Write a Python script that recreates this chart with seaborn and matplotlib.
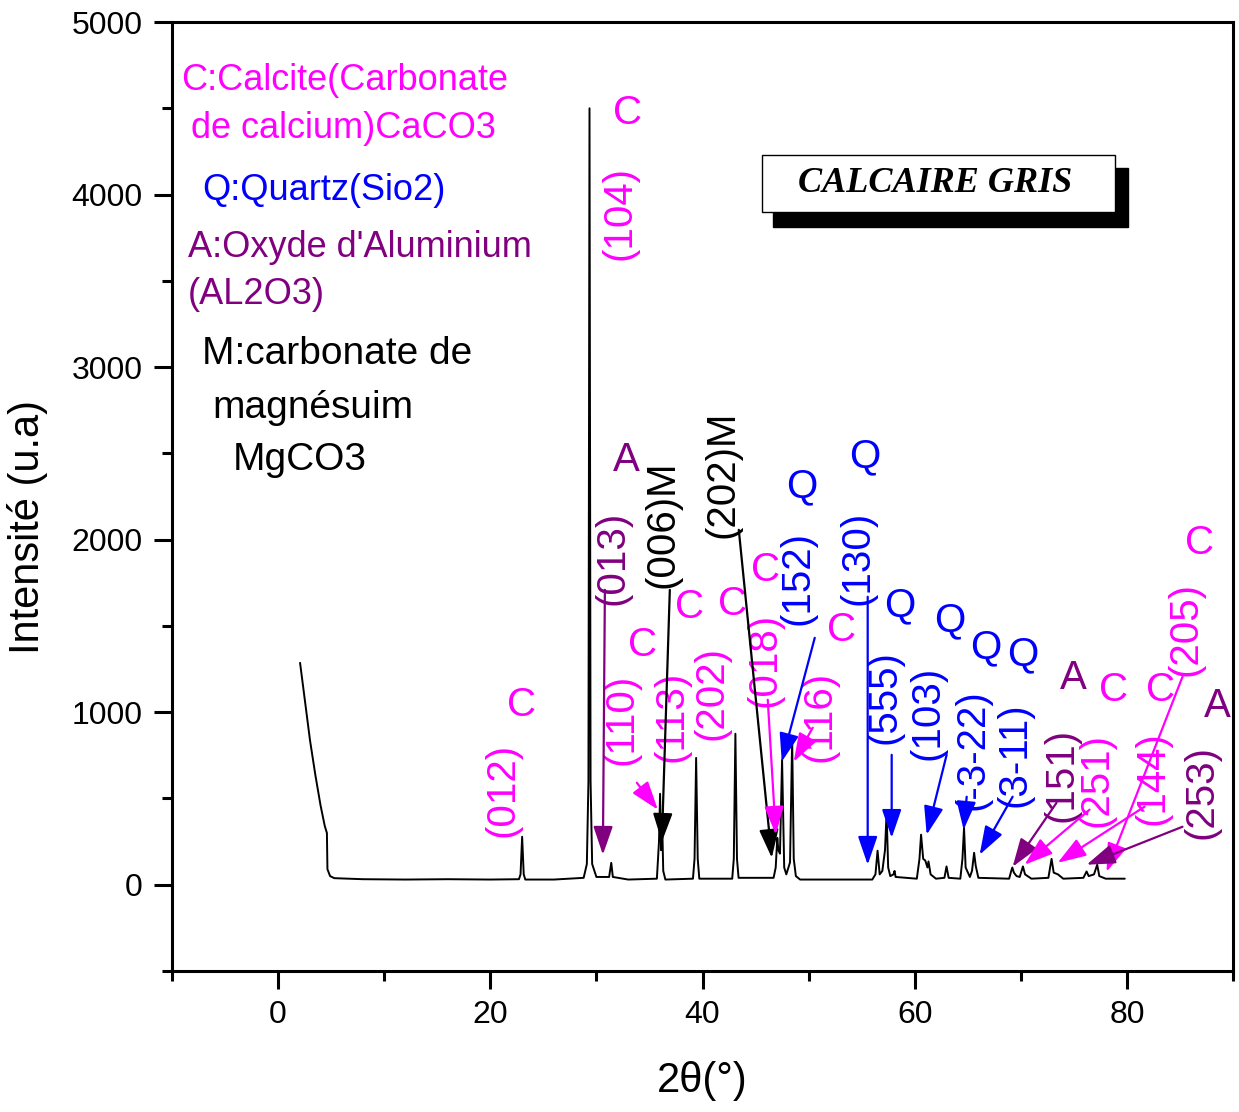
import matplotlib
matplotlib.use("Agg")
import matplotlib.pyplot as plt
from matplotlib.patches import Rectangle
import seaborn as sns
import pandas as pd

# ---------------- data ----------------
two_theta = [2.07, 2.5, 3.0, 3.5, 4.0, 4.4, 4.6, 4.65, 4.9, 5.3, 8, 12, 16, 20,
             22.7, 22.85, 23.0, 23.15, 23.3, 26, 28.8, 29.1, 29.25, 29.35, 29.45, 29.6, 30.0,
             31.2, 31.4, 31.55, 33, 35.7, 35.9, 36.0, 36.1, 36.2, 36.3, 36.5,
             39.1, 39.25, 39.4, 39.55, 39.7, 42.8, 42.95, 43.1, 43.25, 43.4,
             46.7, 46.9, 47.05, 47.15, 47.3, 47.5, 47.7, 47.9, 48.25, 48.45, 48.6, 48.8, 49.2,
             56.0, 56.3, 56.5, 56.7, 56.95, 57.2, 57.35, 57.5, 57.7, 58.0, 58.1, 58.2,
             60.2, 60.45, 60.6, 60.8, 61.0, 61.2, 61.3, 61.5, 62.0, 62.8, 63.0, 63.2,
             64.3, 64.5, 64.65, 64.8, 65.2, 65.4, 65.6, 65.75, 66.0,
             68.9, 69.1, 69.2, 69.35, 69.6, 69.9, 70.2, 70.4, 71.0,
             72.6, 72.9, 73.1, 73.5, 74.0, 75.9, 76.2, 76.4, 76.9, 77.2, 77.4, 78.0, 79.8]
intensity = [1286, 1080, 840, 640, 460, 340, 300, 90, 50, 38, 32, 30, 32, 30,
             32, 60, 278, 60, 30, 30, 40, 120, 600, 4500, 600, 120, 45,
             45, 127, 45, 30, 35, 250, 527, 200, 360, 80, 30,
             35, 150, 735, 150, 35, 35, 150, 875, 150, 40,
             40, 100, 272, 200, 180, 724, 100, 60, 130, 845, 150, 50, 30,
             30, 60, 197, 60, 80, 200, 417, 100, 50, 60, 80, 45,
             35, 150, 290, 150, 140, 100, 135, 60, 35, 40, 106, 40,
             35, 150, 330, 100, 45, 80, 185, 110, 40,
             35, 80, 100, 70, 50, 45, 106, 60, 35,
             40, 150, 70, 60, 35, 40, 77, 50, 60, 116, 50, 35, 35]

legend_lines = ["C:Calcite(Carbonate", "de calcium)CaCO3", "Q:Quartz(Sio2)",
                "A:Oxyde d'Aluminium", "(AL2O3)", "M:carbonate de", "magnésuim", "MgCO3"]
legend_colors = ["#FF00FF", "#FF00FF", "#0000FF", "#800080", "#800080", "black", "black", "black"]

phase_letters = ["C", "C", "A", "C", "C", "C", "C", "Q", "C", "Q", "Q", "Q", "Q", "Q",
                 "A", "C", "C", "C", "A"]
hkl_labels = ["(012)", "(104)", "(013)", "(110)", "(113)", "(202)", "(018)", "(152)", "(116)",
              "(130)", "(555)", "(103)", "(-3-22)", "(3-11)", "(151)", "(251)", "(144)",
              "(205)", "(253)"]
phase_colors = {"C": "#FF00FF", "Q": "#0000FF", "A": "#800080", "M": "black"}
mg_labels = ["(006)M", "(202)M"]
sample_name = "CALCAIRE GRIS"

# ---------------- layout (positions of the annotations) ----------------
letter_pos = [(22.98, 1043), (32.97, 4473), (32.87, 2462), (34.38, 1391), (38.81, 1611),
              (42.86, 1628), (45.90, 1825), (49.35, 2306), (53.12, 1477), (55.29, 2480),
              (58.58, 1622), (63.29, 1535), (66.69, 1373), (70.17, 1333), (74.97, 1199),
              (78.74, 1130), (83.20, 1130), (86.84, 1982), (88.54, 1037)]
hkl_pos = [(21.19, 550), (32.21, 3894), (31.55, 1895), (32.40, 956), (37.11, 973),
           (40.88, 1112), (45.87, 1304), (48.95, 1775), (51.05, 973), (54.63, 1895),
           (57.17, 1089), (61.22, 997), (65.46, 782), (69.42, 753), (73.84, 637),
           (77.14, 608), (82.41, 620), (85.50, 1480), (87.03, 539)]
mg_pos = [(36.26, 2092), (41.91, 2376)]
# arrows: (tail, head, color)
arrows = [((30.80, 1709), (30.61, 174), "#800080"),
          ((36.92, 1709), (36.17, 249), "black"),
          ((33.81, 591), (35.79, 435), "#FF00FF"),
          ((43.42, 2057), (46.53, 156), "black"),
          ((46.15, 1072), (46.91, 290), "#FF00FF"),
          ((50.58, 1431), (47.47, 713), "#0000FF"),
          ((50.39, 910), (48.60, 713), "#FF00FF"),
          ((55.57, 1669), (55.57, 116), "#0000FF"),
          ((57.83, 753), (57.83, 272), "#0000FF"),
          ((63.01, 753), (61.13, 290), "#0000FF"),
          ((64.90, 510), (64.61, 319), "#0000FF"),
          ((69.23, 510), (66.12, 174), "#0000FF"),
          ((73.37, 475), (69.23, 104), "#800080"),
          ((76.48, 435), (70.36, 116), "#FF00FF"),
          ((81.66, 452), (73.47, 127), "#FF00FF"),
          ((85.24, 1205), (78.08, 75), "#FF00FF"),
          ((85.24, 336), (76.20, 116), "#800080")]

sns.set_style("ticks")
plt.rcParams["font.family"] = ["Liberation Sans", "DejaVu Sans"]
plt.rcParams["text.color"] = "black"
plt.rcParams["axes.labelcolor"] = "black"
plt.rcParams["xtick.color"] = "black"
plt.rcParams["ytick.color"] = "black"

W, H = 1239, 1112
fig = plt.figure(figsize=(W / 100, H / 100), dpi=100)
ax = fig.add_axes([172 / W, 1 - 971 / H, (1233 - 172) / W, (971 - 22) / H])

df = pd.DataFrame({"two_theta": two_theta, "intensity": intensity})
sns.lineplot(data=df, x="two_theta", y="intensity", sort=False, color="black",
             linewidth=1.4, ax=ax)

ax.set_xlim(-10, 90)
ax.set_ylim(-500, 5000)
ax.set_xticks([0, 20, 40, 60, 80])
ax.set_xticks([-10, 10, 30, 50, 70, 90], minor=True)
ax.set_yticks([0, 1000, 2000, 3000, 4000, 5000])
ax.set_yticks([-500, 500, 1500, 2500, 3500, 4500], minor=True)
ax.tick_params(which="major", direction="out", length=13, width=2.2, labelsize=23, pad=8,
               color="black", labelcolor="black")
ax.tick_params(which="minor", direction="out", length=7, width=2.2, color="black")
for s in ax.spines.values():
    s.set_linewidth(2.2)
    s.set_color("black")
    s.set_visible(True)

ax.set_xlabel("2θ(°)", fontsize=30, color="black")
ax.set_ylabel("Intensité (u.a)", fontsize=30, color="black")
ax.xaxis.set_label_coords(0.5, -0.095)
ax.yaxis.set_label_coords(-0.117, 0.468)

# phase letters and hkl labels
for letter, (x, y) in zip(phase_letters, letter_pos):
    ax.text(x, y, letter, color=phase_colors[letter], fontsize=29, ha="center", va="center")
for letter, lab, (x, y) in zip(phase_letters, hkl_labels, hkl_pos):
    ax.text(x, y, lab, color=phase_colors[letter], fontsize=29, rotation=90,
            ha="center", va="center")
for lab, (x, y) in zip(mg_labels, mg_pos):
    ax.text(x, y, lab, color="black", fontsize=29, rotation=90, ha="center", va="center")

for tail, head, col in arrows:
    ax.annotate("", xy=head, xytext=tail,
                arrowprops=dict(arrowstyle="-|>,head_length=0.7,head_width=0.24",
                                color=col, lw=1.6, mutation_scale=25,
                                shrinkA=0, shrinkB=0))

# legend text block
leg_x = [181, 191, 202, 188, 188, 202, 212, 233]
leg_y = [80, 128, 190, 247, 295, 354, 408, 460]
for t, c, px, py in zip(legend_lines, legend_colors, leg_x, leg_y):
    fs = 28 if c == "black" else 26
    fig.text(px / W, 1 - py / H, t, color=c, fontsize=fs, ha="left", va="center")

# sample name box with shadow
fig.patches.append(Rectangle((773 / W, 1 - 227 / H), (1128 - 773) / W, (227 - 168) / H,
                             transform=fig.transFigure, facecolor="black",
                             edgecolor="black", zorder=5))
fig.patches.append(Rectangle((762 / W, 1 - 212 / H), (1115 - 762) / W, (212 - 155) / H,
                             transform=fig.transFigure, facecolor="white",
                             edgecolor="black", linewidth=1.0, zorder=6))
fig.text(935 / W, 1 - 184 / H, sample_name, fontsize=26, fontfamily="Liberation Serif",
         fontweight="bold", fontstyle="italic", ha="center", va="center", zorder=7,
         color="black")

fig.savefig("out.png", dpi=100)
